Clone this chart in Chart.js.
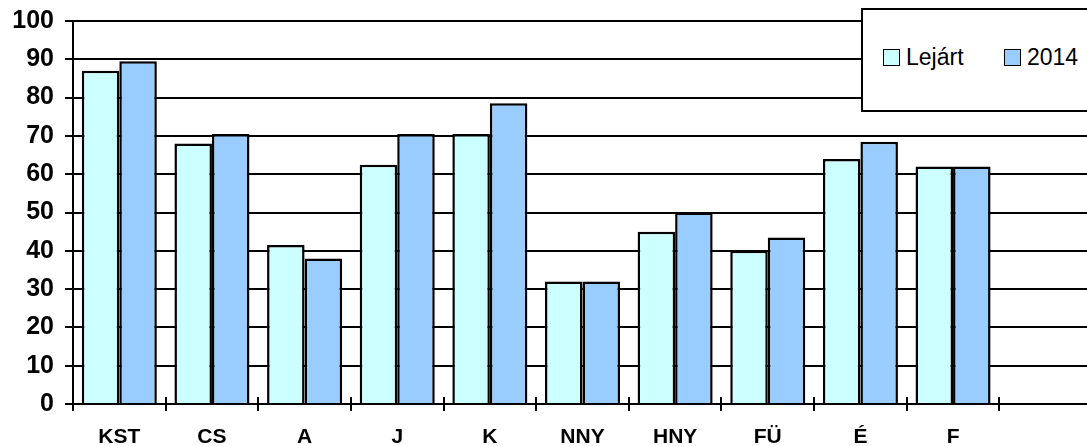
<!DOCTYPE html>
<html>
<head>
<meta charset="utf-8">
<script src="https://cdn.jsdelivr.net/npm/chart.js@4"></script>
<style>
  html, body { margin: 0; padding: 0; background: #fff; overflow: hidden; }
  .wrap { position: relative; width: 1092px; height: 446px; }
  .legend-box {
    position: absolute; left: 861px; top: 8px; width: 240px; height: 100px;
    border: 2px solid #000; background: #fff;
    font-family: "Liberation Sans", Arial, sans-serif; font-size: 23px; color: #000;
  }
  .legend-item { position: absolute; top: 34px; display: flex; align-items: center; }
  .legend-item .sw { width: 15px; height: 15px; border: 1.5px solid #000; margin-right: 6px; }
</style>
</head>
<body>
<div class="wrap">
  <canvas id="chart" width="1092" height="446"></canvas>
  <div class="legend-box" id="legend"></div>
</div>
<script>
const categories = ['KST', 'CS', 'A', 'J', 'K', 'NNY', 'HNY', 'FÜ', 'É', 'F', ''];
const lejart = [87, 68, 41.5, 62.5, 70.5, 32, 45, 40, 64, 62, null];
const ev2014 = [89.5, 70.5, 38, 70.5, 78.5, 32, 50, 43.5, 68.5, 62, null];
const yTicks = [0, 10, 20, 30, 40, 50, 60, 70, 80, 90, 100];

const seriesColors = ['#CCFFFF', '#99CCFF'];

// tick marks on the x axis cross the axis line, draw the upper half too
const crossTicks = {
  id: 'crossTicks',
  afterDatasetsDraw(chart) {
    const x = chart.scales.x;
    const ctx = chart.ctx;
    const step = x.getPixelForValue(1) - x.getPixelForValue(0);
    ctx.save();
    ctx.strokeStyle = '#000';
    ctx.lineWidth = 2;
    for (let i = 0; i < categories.length; i++) {
      const px = Math.round(x.getPixelForValue(i) - step / 2);
      ctx.beginPath();
      ctx.moveTo(px, x.top - 7);
      ctx.lineTo(px, x.top);
      ctx.stroke();
    }
    ctx.restore();
  }
};

const chart = new Chart(document.getElementById('chart'), {
  type: 'bar',
  data: {
    labels: categories,
    datasets: [
      { label: 'Lejárt', data: lejart, backgroundColor: seriesColors[0], borderColor: '#000', borderWidth: 2.5 },
      { label: '2014', data: ev2014, backgroundColor: seriesColors[1], borderColor: '#000', borderWidth: 2.5 }
    ]
  },
  options: {
    responsive: false,
    animation: false,
    categoryPercentage: 0.81,
    barPercentage: 1.0,
    layout: { padding: { top: 21, right: 0, left: 0, bottom: 0 } },
    plugins: { legend: { display: false }, tooltip: { enabled: false } },
    scales: {
      x: {
        afterFit: s => { s.height = 42; },
        border: { color: '#000', width: 2 },
        grid: { offset: true, drawOnChartArea: false, color: '#000', lineWidth: 2, tickLength: 7 },
        ticks: {
          color: '#000', padding: 14, maxRotation: 0,
          font: { family: '"Liberation Sans", Arial, sans-serif', size: 21, weight: 'bold' }
        }
      },
      y: {
        min: 0, max: 100,
        afterFit: s => { s.width = 73; s.paddingTop = 0; s.paddingBottom = 0; },
        afterBuildTicks: s => { s.ticks = yTicks.map(v => ({ value: v })); },
        border: { color: '#000', width: 2 },
        grid: { color: '#000', lineWidth: 2, tickLength: 8 },
        ticks: {
          color: '#000', padding: 11,
          font: { family: '"Liberation Sans", Arial, sans-serif', size: 25, weight: 'bold' }
        }
      }
    }
  },
  plugins: [crossTicks]
});

const legendEl = document.getElementById('legend');
const legendPos = [20, 141];
legendEl.innerHTML = chart.data.datasets.map((d, i) => `
  <div class="legend-item" style="left:${legendPos[i]}px">
    <span class="sw" style="background:${d.backgroundColor}"></span>${d.label}
  </div>`).join('');
</script>
</body>
</html>
